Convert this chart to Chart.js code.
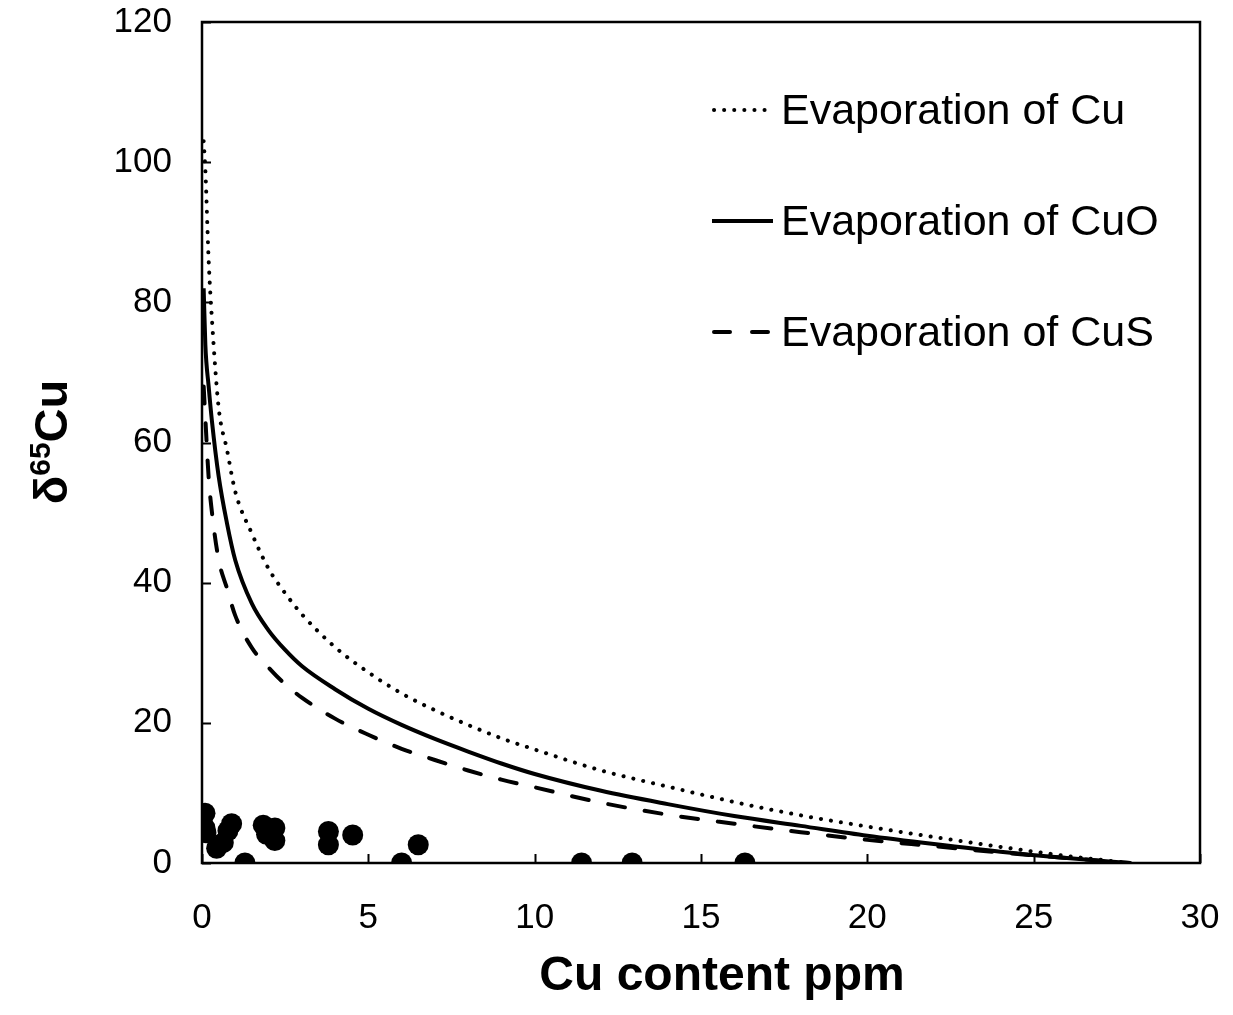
<!DOCTYPE html>
<html>
<head>
<meta charset="utf-8">
<script src="https://cdn.jsdelivr.net/npm/chart.js@4.4.1/dist/chart.umd.min.js"></script>
<style>
  html, body { margin: 0; padding: 0; background: #fff; }
  #wrap { width: 1233px; height: 1015px; position: relative; }
</style>
</head>
<body>
<div id="wrap"><canvas id="c" width="1233" height="1015"></canvas></div>
<script>
// ---- Data ----
const curveX = [0.05, 0.1, 0.2, 0.3, 0.5, 0.75, 1, 1.5, 2, 2.5, 3, 4, 5, 6, 7, 8, 9, 10, 12, 14, 16, 18, 20, 22, 24, 26, 27.9];
const evapCu  = [103, 99, 86, 77.5, 65, 59, 53, 47, 42, 38.5, 35.5, 30.8, 27.2, 24.2, 21.8, 19.7, 17.8, 16.2, 13.2, 10.9, 8.7, 6.8, 5.2, 3.7, 2.3, 1.0, 0];
const evapCuO = [82, 74, 68, 63, 55.2, 48.5, 43.2, 37, 33.2, 30.4, 28.1, 24.8, 22.0, 19.7, 17.7, 15.9, 14.2, 12.7, 10.3, 8.4, 6.7, 5.3, 3.9, 2.7, 1.6, 0.7, 0];
const evapCuS = [68, 63.5, 55, 50, 43.3, 39.2, 35.3, 30.7, 27.9, 25.5, 23.6, 20.6, 18.3, 16.3, 14.7, 13.2, 11.9, 10.8, 8.6, 6.9, 5.6, 4.4, 3.3, 2.4, 1.5, 0.7, 0];
const sampleX = [0.09, 0.09, 0.12, 0.44, 0.64, 0.78, 0.89, 1.29, 1.84, 1.94, 2.19, 2.19, 3.8, 3.8, 4.53, 6.0, 6.5, 11.41, 12.93, 16.32];
const sampleY = [7.1, 5.0, 4.3, 2.1, 2.9, 4.6, 5.6, 0, 5.4, 4.1, 5.0, 3.2, 4.5, 2.6, 4.0, 0, 2.6, 0, 0, 0];
const seriesNames = ['Evaporation of Cu', 'Evaporation of CuO', 'Evaporation of CuS'];
const xTicks = [0, 5, 10, 15, 20, 25, 30];
const yTicks = [0, 20, 40, 60, 80, 100, 120];
const xTitle = 'Cu content ppm';

const pts = (xs, ys) => xs.map((x, i) => ({ x: x, y: ys[i] }));

const FONT = '"Liberation Sans", Arial, sans-serif';

const framePlugin = {
  id: 'frame',
  beforeDatasetsDraw(chart) {
    const { ctx, chartArea: a, scales } = chart;
    ctx.save();
    ctx.strokeStyle = '#000';
    ctx.lineWidth = 2.5;
    ctx.strokeRect(a.left, a.top, a.right - a.left, a.bottom - a.top);
    ctx.lineWidth = 2;
    ctx.beginPath();
    yTicks.forEach(v => {
      const y = Math.round(scales.y.getPixelForValue(v)) + 0.5;
      ctx.moveTo(a.left, y); ctx.lineTo(a.left + 9, y);
    });
    xTicks.forEach(v => {
      const x = Math.round(scales.x.getPixelForValue(v)) + 0.5;
      ctx.moveTo(x, a.bottom); ctx.lineTo(x, a.bottom - 9);
    });
    ctx.stroke();
    ctx.restore();
  },
  afterDraw(chart) {
    const { ctx, chartArea: a } = chart;
    ctx.save();
    ctx.fillStyle = '#000';
    // x title
    ctx.font = 'bold 48px ' + FONT;
    ctx.textAlign = 'center';
    ctx.textBaseline = 'middle';
    ctx.fillText(xTitle, 722, 977);
    // y title with superscript
    ctx.translate(50, 442);
    ctx.rotate(-Math.PI / 2);
    const big = 'bold 47px ' + FONT, small = 'bold 30px ' + FONT;
    ctx.font = big; const wD = ctx.measureText('\u03B4').width; const wC = ctx.measureText('Cu').width;
    ctx.font = small; const w65 = ctx.measureText('65').width;
    let x0 = -(wD + w65 + wC) / 2;
    ctx.textAlign = 'left';
    ctx.textBaseline = 'alphabetic';
    ctx.font = big; ctx.fillText('\u03B4', x0, 17);
    ctx.font = small; ctx.fillText('65', x0 + wD, 0);
    ctx.font = big; ctx.fillText('Cu', x0 + wD + w65, 17);
    ctx.restore();

    // legend
    ctx.save();
    ctx.strokeStyle = '#000';
    ctx.lineWidth = 4;
    const rows = [110, 221, 332];
    ctx.lineCap = 'round';
    ctx.setLineDash([0.1, 10]);
    ctx.beginPath(); ctx.moveTo(714, rows[0]); ctx.lineTo(772, rows[0]); ctx.stroke();
    ctx.setLineDash([]);
    ctx.lineCap = 'butt';
    ctx.beginPath(); ctx.moveTo(712, rows[1]); ctx.lineTo(773, rows[1]); ctx.stroke();
    ctx.lineCap = 'round';
    ctx.setLineDash([16, 22]);
    ctx.beginPath(); ctx.moveTo(714, rows[2]); ctx.lineTo(772, rows[2]); ctx.stroke();
    ctx.setLineDash([]);
    ctx.fillStyle = '#000';
    ctx.font = '43px ' + FONT;
    ctx.textAlign = 'left';
    ctx.textBaseline = 'middle';
    seriesNames.forEach((n, i) => ctx.fillText(n, 781, rows[i] + 2));
    ctx.restore();
  }
};

new Chart(document.getElementById('c'), {
  type: 'scatter',
  data: {
    datasets: [
      { label: seriesNames[0], data: pts(curveX, evapCu), showLine: true, borderColor: '#000', borderWidth: 4,
        borderDash: [0.1, 10], borderCapStyle: 'round', pointRadius: 0, cubicInterpolationMode: 'monotone', fill: false },
      { label: seriesNames[1], data: pts(curveX, evapCuO), showLine: true, borderColor: '#000', borderWidth: 4,
        pointRadius: 0, cubicInterpolationMode: 'monotone', fill: false },
      { label: seriesNames[2], data: pts(curveX, evapCuS), showLine: true, borderColor: '#000', borderWidth: 4,
        borderDash: [17, 20], borderCapStyle: 'round', pointRadius: 0, cubicInterpolationMode: 'monotone', fill: false },
      { label: 'Samples', data: pts(sampleX, sampleY), showLine: false, pointRadius: 10.5,
        backgroundColor: '#000', borderColor: '#000', borderWidth: 0 }
    ]
  },
  options: {
    responsive: false,
    animation: false,
    events: [],
    layout: { padding: { top: 22, right: 33, left: 0, bottom: 0 } },
    plugins: { legend: { display: false }, tooltip: { enabled: false } },
    scales: {
      x: {
        type: 'linear', min: 0, max: 30,
        afterBuildTicks(s) { s.ticks = xTicks.map(v => ({ value: v })); },
        afterFit(s) { s.height = 152; s.paddingLeft = 0; s.paddingRight = 0; },
        grid: { display: false, drawTicks: false }, border: { display: false },
        ticks: { color: '#000', font: { family: FONT, size: 35 }, padding: 34 }
      },
      y: {
        type: 'linear', min: 0, max: 120,
        afterBuildTicks(s) { s.ticks = yTicks.map(v => ({ value: v })); },
        afterFit(s) { s.width = 202; s.paddingTop = 0; s.paddingBottom = 0; },
        grid: { display: false, drawTicks: false }, border: { display: false },
        ticks: { color: '#000', font: { family: FONT, size: 35 }, padding: 30 }
      }
    }
  },
  plugins: [framePlugin]
});
</script>
</body>
</html>
